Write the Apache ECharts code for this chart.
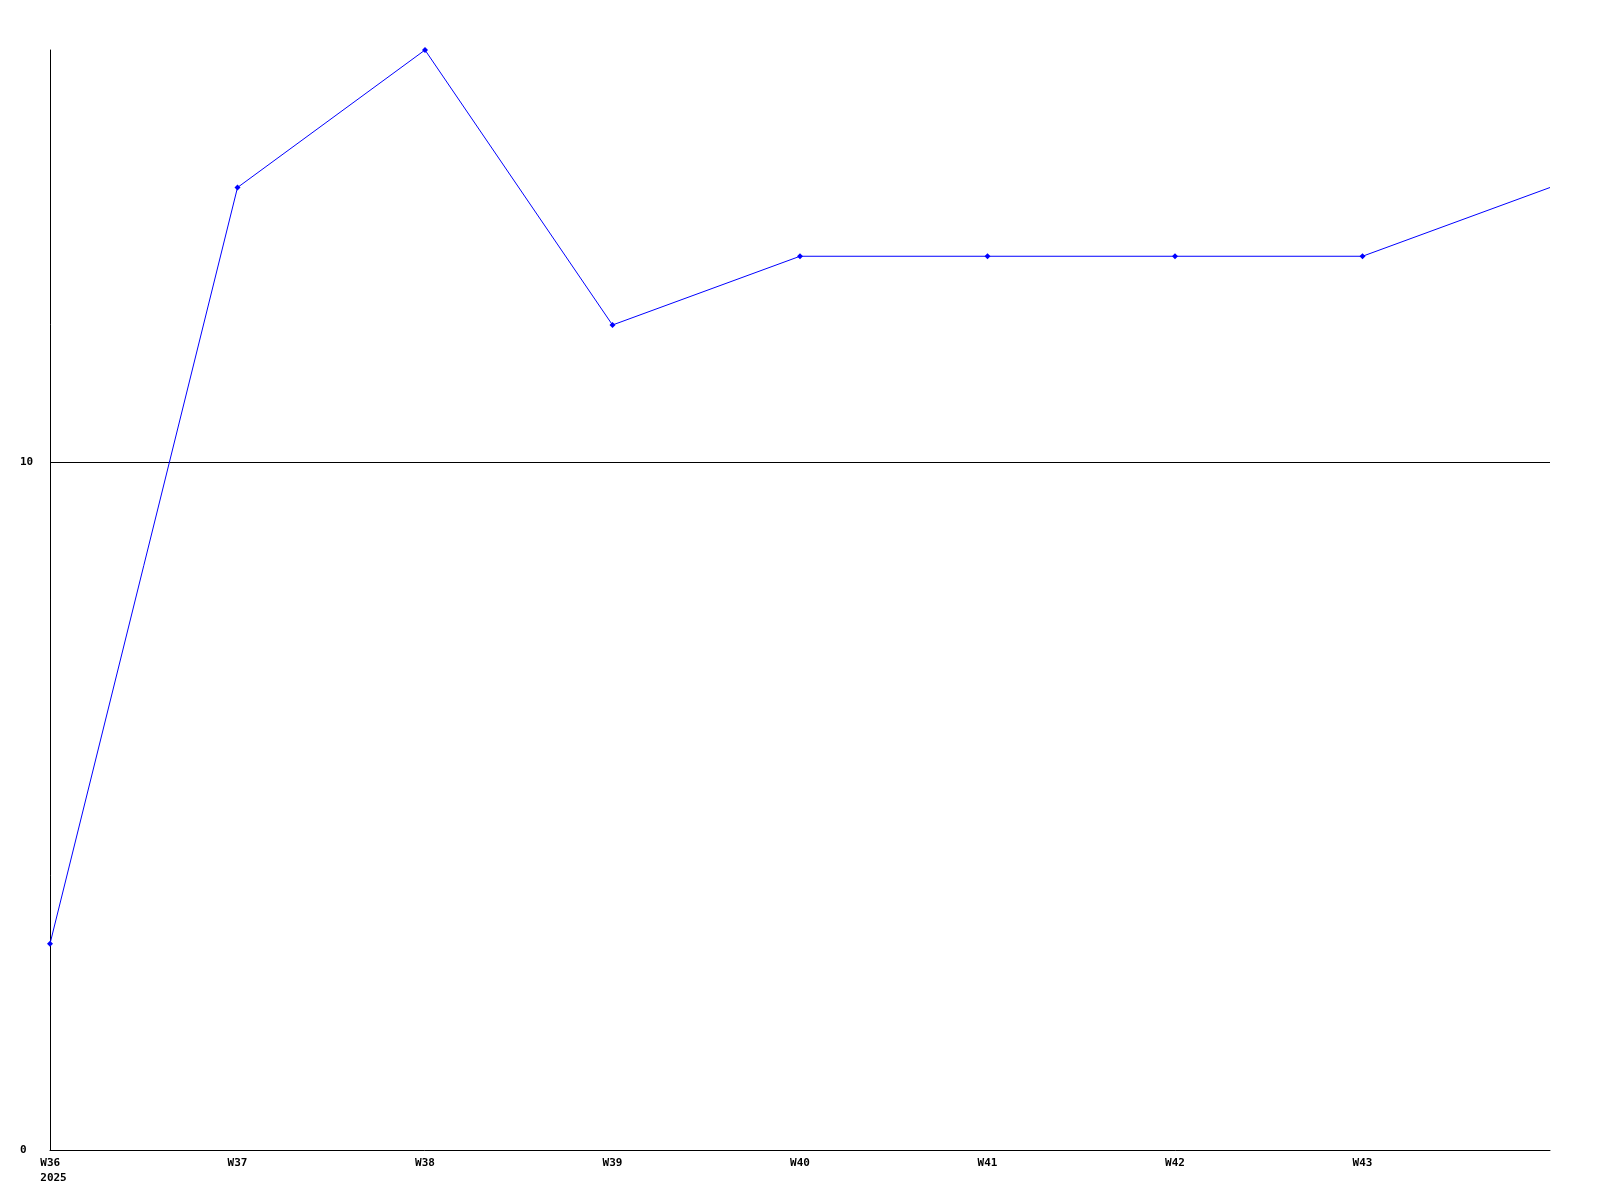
<!DOCTYPE html>
<html>
<head>
<meta charset="utf-8">
<script src="https://cdn.jsdelivr.net/npm/echarts@6/dist/echarts.min.js"></script>
<style>
html,body{margin:0;padding:0;background:#fff;}
#chart{width:1600px;height:1200px;}
</style>
</head>
<body>
<div id="chart"></div>
<script>
const weeks = ['W36', 'W37', 'W38', 'W39', 'W40', 'W41', 'W42', 'W43', 'W44'];
const values = [3, 14, 16, 12, 13, 13, 13, 13, 14];
const yearLabel = '2025';
const yTicks = [0, 10];

const lastIdx = weeks.length - 1;
const seriesData = values.map((v, i) => i === lastIdx ? { value: v, symbolSize: 0 } : v);

const chart = echarts.init(document.getElementById('chart'), null, { renderer: 'canvas' });
chart.setOption({
  animation: false,
  backgroundColor: '#ffffff',
  grid: { left: 50, right: 50, top: 50, bottom: 50, containLabel: false },
  xAxis: {
    type: 'category',
    data: weeks,
    boundaryGap: false,
    axisLine: { show: true, lineStyle: { color: '#000', width: 1 } },
    axisTick: { show: false },
    splitLine: { show: false },
    axisLabel: {
      interval: 0,
      margin: 6,
      color: '#000',
      fontFamily: 'DejaVu Sans Mono',
      fontWeight: 'bold',
      fontSize: 11,
      lineHeight: 15,
      formatter: function (v, i) {
        if (i === lastIdx) return '';
        if (i === 0) return '{a|' + v + ' }\n{a|' + yearLabel + '}';
        return v;
      },
      rich: {
        a: { fontFamily: 'DejaVu Sans Mono', fontWeight: 'bold', fontSize: 11, lineHeight: 15, color: '#000', align: 'left', padding: [0, 0, 0, 7] }
      }
    }
  },
  yAxis: {
    type: 'value',
    min: 0,
    max: 16,
    interval: 10,
    axisLine: { show: true, lineStyle: { color: '#000', width: 1 } },
    axisTick: { show: false },
    splitLine: { show: true, showMinLine: false, showMaxLine: false, lineStyle: { color: '#000', width: 1 } },
    axisLabel: {
      margin: 30,
      align: 'left',
      color: '#000',
      fontFamily: 'DejaVu Sans Mono',
      fontWeight: 'bold',
      fontSize: 11,
      showMaxLabel: false,
      formatter: function (v) { return yTicks.indexOf(v) >= 0 ? String(v) : ''; }
    }
  },
  series: [{
    type: 'line',
    data: seriesData,
    symbol: 'diamond',
    symbolSize: 6,
    showAllSymbol: true,
    lineStyle: { color: '#0000ff', width: 1 },
    itemStyle: { color: '#0000ff' },
    clip: true
  }]
});
</script>
</body>
</html>
